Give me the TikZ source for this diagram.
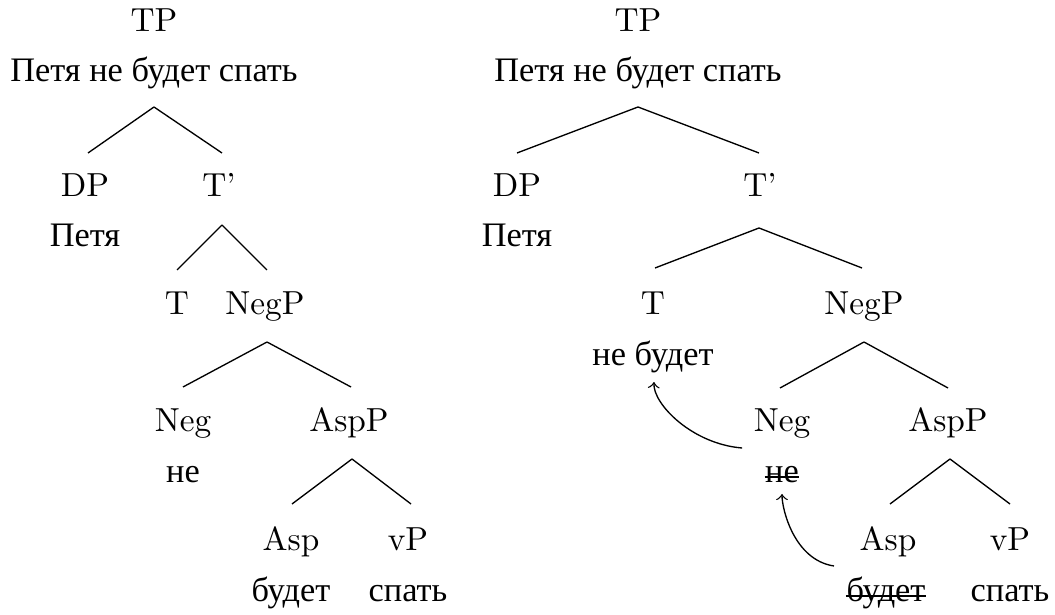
\documentclass[tikz,border=0pt]{standalone}
\usepackage{fontspec}
\newfontfamily\cyr[Scale=1.03]{LiberationSerif-Regular.ttf}
\usetikzlibrary{calc}
\begin{document}
\begin{tikzpicture}[x=0.3pt,y=-0.3pt,
  lbl/.style={anchor=base,inner sep=0pt},
  wrd/.style={anchor=base,inner sep=0pt,font=\cyr},
  branch/.style={line width=0.4pt},
  move/.style={->,line width=0.4pt},
  strike/.style={line width=0.4pt}]
\useasboundingbox (0,0) rectangle (1055,615);

% ---------- left tree: surface order ----------
\node[lbl] (tpL)   at (154,32)  {TP};
\node[wrd] (sL)    at (154,82)  {Петя не будет спать};
\node[lbl] (dpL)   at (85,197)  {DP};
\node[wrd] (pL)    at (85,247)  {Петя};
\node[lbl] (tbL)   at (219,197) {T'};
\node[lbl] (tL)    at (177,315) {T};
\node[lbl] (negpL) at (265,315) {NegP};
\node[lbl] (negL)  at (183,432) {Neg};
\node[wrd] (neL)   at (183,483) {не};
\node[lbl] (asppL) at (349,432) {AspP};
\node[lbl] (aspL)  at (291,551) {Asp};
\node[wrd] (budL)  at (291,602) {будет};
\node[lbl] (vpL)   at (408,551) {vP};
\node[wrd] (spL)   at (408,602) {спать};

\draw[branch] ($(sL.base)+(0,25)$) -- ($(dpL.base)+(3,-44)$);
\draw[branch] ($(sL.base)+(0,25)$) -- ($(tbL.base)+(3,-44)$);
\draw[branch] ($(tbL.base)+(3,28)$) -- ($(tL.base)+(0,-45)$);
\draw[branch] ($(tbL.base)+(3,28)$) -- ($(negpL.base)+(2,-45)$);
\draw[branch] ($(negpL.base)+(2,27)$) -- ($(negL.base)+(0,-45)$);
\draw[branch] ($(negpL.base)+(2,27)$) -- ($(asppL.base)+(2,-45)$);
\draw[branch] ($(asppL.base)+(3,27)$) -- ($(aspL.base)+(1,-47)$);
\draw[branch] ($(asppL.base)+(3,27)$) -- ($(vpL.base)+(3,-47)$);

% ---------- right tree: head movement ----------
\node[lbl] (tpR)   at (638,32)  {TP};
\node[wrd] (sR)    at (638,82)  {Петя не будет спать};
\node[lbl] (dpR)   at (517,197) {DP};
\node[wrd] (pR)    at (517,247) {Петя};
\node[lbl] (tbR)   at (760,197) {T'};
\node[lbl] (tR)    at (653,315) {T};
\node[wrd] (nbR)   at (653,366) {не будет};
\node[lbl] (negpR) at (864,315) {NegP};
\node[lbl] (negR)  at (782,432) {Neg};
\node[wrd] (neR)   at (782,483) {не};
\node[lbl] (asppR) at (948,432) {AspP};
\node[lbl] (aspR)  at (888,551) {Asp};
\node[wrd] (budR)  at (886,602) {будет};
\node[lbl] (vpR)   at (1010,551) {vP};
\node[wrd] (spR)   at (1010,602) {спать};

\draw[branch] ($(sR.base)+(0,25)$) -- ($(dpR.base)+(0,-44)$);
\draw[branch] ($(sR.base)+(0,25)$) -- ($(tbR.base)+(-1,-44)$);
\draw[branch] ($(tbR.base)+(-1,31)$) -- ($(tR.base)+(2,-47)$);
\draw[branch] ($(tbR.base)+(-1,31)$) -- ($(negpR.base)+(-2,-47)$);
\draw[branch] ($(negpR.base)+(0,27)$) -- ($(negR.base)+(-2,-44)$);
\draw[branch] ($(negpR.base)+(0,27)$) -- ($(asppR.base)+(0,-44)$);
\draw[branch] ($(asppR.base)+(2,27)$) -- ($(aspR.base)+(2,-47)$);
\draw[branch] ($(asppR.base)+(2,27)$) -- ($(vpR.base)+(0,-47)$);

% struck-out lower copies
\draw[strike] ($(neR.base west)+(0,-6)$) -- ($(neR.base east)+(0,-6)$);
\draw[strike] ($(budR.base west)+(0,-6)$) -- ($(budR.base east)+(0,-6)$);

% movement arrows
\coordinate (negTail) at ($(negR.base west)+(-11,16)$);
\coordinate (aspTail) at ($(aspR.base west)+(-25,15)$);
\draw[move] (negTail) .. controls ($(negTail)+(-50,-4)$) and ($(nbR.south)+(0,30)$) .. ($(nbR.south)+(1,8)$);
\draw[move] (aspTail) .. controls ($(aspTail)+(-40,-6)$) and ($(neR.south)+(0,25)$) .. ($(neR.south)+(0,10)$);
\end{tikzpicture}
\end{document}
